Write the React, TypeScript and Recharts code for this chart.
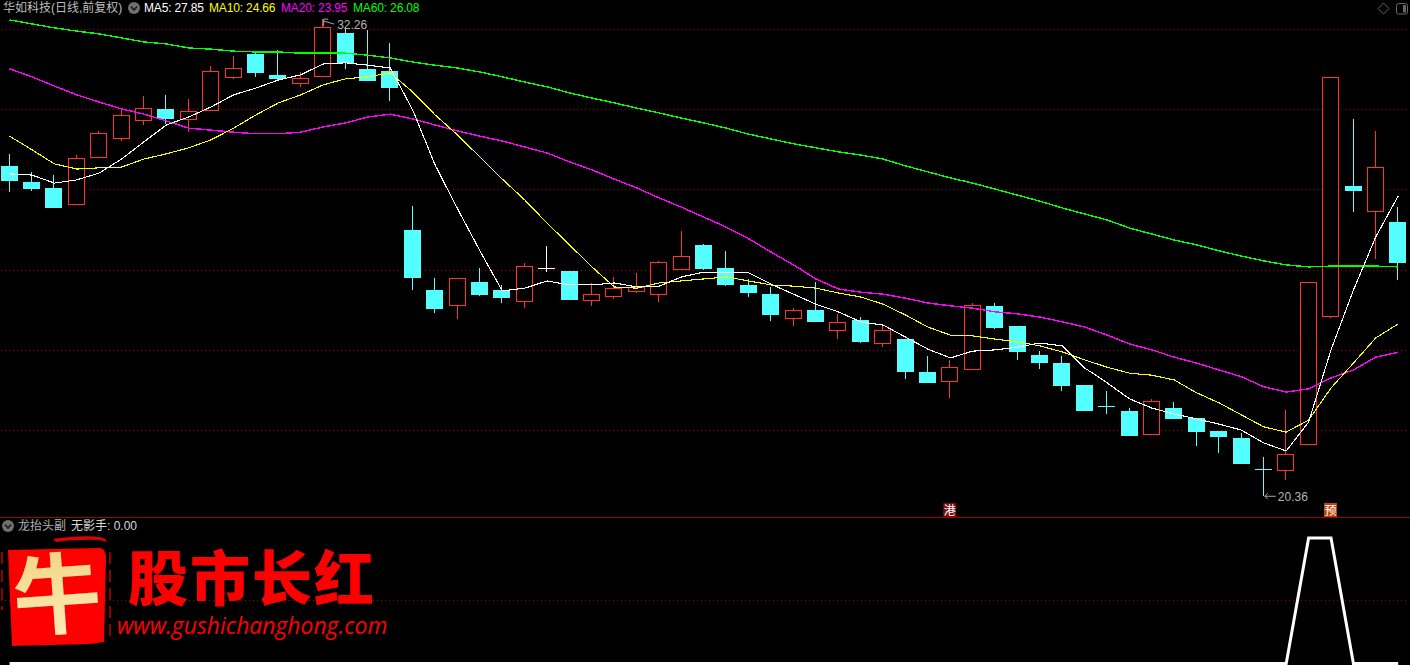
import { Bar, CartesianGrid, ComposedChart, Line, ReferenceDot, XAxis, YAxis } from 'recharts';

const highs = [28.9, 28.45, 28.37, 28.87, 29.47, 29.99, 30.34, 30.37, 30.27, 31.09, 31.34, 31.41, 31.49, 30.94, 32.26, 32.06, 31.99, 31.66,
  27.6, 25.8, 25.8, 26.05, 25.63, 26.18, 26.6, 25.98, 25.68, 25.83, 25.93, 26.23, 26.98, 26.65, 26.48, 25.78, 25.58, 25.05, 25.7, 24.91, 24.83, 24.66,
  24.28, 23.86, 23.76, 25.18, 25.18, 24.61, 23.98, 23.86, 23.13, 22.98, 22.56, 22.79, 22.71, 22.31, 21.99, 21.94, 21.34, 22.51, 25.7, 30.82, 29.77, 29.47, 27.57];
const opens = [28.6, 28.2, 28.05, 27.65, 28.82, 29.3, 29.74, 30.02, 29.77, 29.99, 30.82, 31.39, 30.87, 30.67, 30.84, 31.91, 31.02, 30.97,
  27.0, 25.5, 25.13, 25.7, 25.5, 25.23, 26.05, 25.98, 25.25, 25.35, 25.48, 25.4, 26.03, 26.63, 26.05, 25.63, 25.4, 24.81, 25.0, 24.51, 24.76, 24.18,
  24.28, 23.46, 23.24, 23.53, 25.11, 24.61, 23.88, 23.68, 23.13, 22.61, 22.49, 21.91, 22.56, 22.31, 21.99, 21.81, 21.04, 21.02, 21.66, 24.86, 28.1, 27.47, 27.2];
const closes = [28.25, 28.05, 27.57, 28.8, 29.42, 29.87, 30.04, 29.79, 29.97, 30.97, 31.04, 30.94, 30.79, 30.79, 32.06, 31.19, 30.74, 30.57,
  25.83, 25.05, 25.8, 25.4, 25.33, 26.1, 26.05, 25.28, 25.4, 25.55, 25.58, 26.2, 26.35, 26.05, 25.65, 25.45, 24.91, 25.0, 24.73, 24.71, 24.23, 24.51,
  23.48, 23.21, 23.58, 25.13, 24.58, 23.98, 23.71, 23.13, 22.51, 22.6, 21.89, 22.74, 22.31, 21.99, 21.86, 21.19, 21.03, 21.41, 25.7, 30.82, 28.0, 28.57, 26.2];
const lows = [27.95, 27.97, 27.55, 27.62, 28.82, 29.22, 29.62, 29.64, 29.44, 29.99, 30.77, 30.82, 30.74, 30.57, 30.82, 31.02, 30.74, 30.22,
  25.5, 24.93, 24.78, 25.35, 25.18, 25.05, 25.95, 25.25, 25.1, 25.28, 25.43, 25.2, 26.03, 26.0, 25.6, 25.33, 24.73, 24.61, 24.71, 24.28, 24.18, 24.08,
  23.28, 23.19, 22.81, 23.51, 24.53, 23.76, 23.53, 22.98, 22.49, 22.41, 21.89, 21.89, 22.29, 21.61, 21.44, 21.19, 20.36, 20.77, 21.66, 24.81, 27.45, 26.28, 25.75];

const ma5 = [28.4, 28.37, 28.17, 28.25, 28.42, 28.77, 29.2, 29.62, 29.82, 30.07, 30.37, 30.54, 30.74, 30.87, 31.14, 31.17, 31.11, 31.04,
  29.99, 28.62, 27.53, 26.48, 25.48, 25.55, 25.73, 25.63, 25.63, 25.68, 25.58, 25.6, 25.83, 25.95, 25.95, 25.93, 25.65, 25.4, 25.15, 24.96, 24.71, 24.63,
  24.33, 24.03, 23.81, 23.98, 24.01, 24.08, 24.18, 24.11, 23.56, 23.19, 22.79, 22.56, 22.41, 22.29, 22.16, 22.01, 21.69, 21.49, 22.21, 24.01, 25.5, 26.83, 27.85];
const ma10 = [29.34, 29.0, 28.65, 28.52, 28.55, 28.57, 28.77, 28.9, 29.05, 29.25, 29.54, 29.87, 30.17, 30.37, 30.62, 30.77, 30.82, 30.92,
  30.44, 29.87, 29.37, 28.82, 28.27, 27.75, 27.17, 26.63, 26.08, 25.58, 25.55, 25.68, 25.73, 25.78, 25.83, 25.73, 25.63, 25.6, 25.55, 25.43, 25.33, 25.15,
  24.88, 24.58, 24.38, 24.36, 24.28, 24.21, 24.11, 23.96, 23.76, 23.58, 23.43, 23.38, 23.26, 22.94, 22.69, 22.39, 22.09, 21.96, 22.26, 23.06, 23.68, 24.31, 24.66];
const ma20 = [31.02, 30.82, 30.59, 30.37, 30.19, 30.02, 29.89, 29.72, 29.54, 29.49, 29.44, 29.4, 29.4, 29.44, 29.57, 29.67, 29.82, 29.89,
  29.77, 29.62, 29.47, 29.34, 29.22, 29.07, 28.92, 28.7, 28.5, 28.27, 28.05, 27.8, 27.57, 27.32, 27.07, 26.78, 26.45, 26.13, 25.78, 25.53, 25.45, 25.4,
  25.3, 25.18, 25.11, 25.05, 24.96, 24.91, 24.83, 24.71, 24.58, 24.38, 24.16, 24.01, 23.83, 23.68, 23.51, 23.34, 23.09, 22.96, 23.04, 23.31, 23.51, 23.83, 23.95];
const ma60 = [32.24, 32.14, 32.04, 31.96, 31.89, 31.79, 31.69, 31.64, 31.54, 31.51, 31.46, 31.44, 31.44, 31.41, 31.41, 31.41, 31.36, 31.29,
  31.19, 31.11, 31.04, 30.94, 30.82, 30.69, 30.57, 30.42, 30.29, 30.17, 30.04, 29.92, 29.79, 29.67, 29.54, 29.39, 29.27, 29.15, 29.05, 28.95, 28.87, 28.77,
  28.6, 28.45, 28.3, 28.17, 28.02, 27.87, 27.72, 27.55, 27.4, 27.25, 27.05, 26.9, 26.75, 26.63, 26.48, 26.35, 26.23, 26.13, 26.08, 26.1, 26.1, 26.1, 26.08];

// 无影手 signal
const signal = [0, 0, 0, 0, 0, 0, 0, 0, 0, 0, 0, 0, 0, 0, 0, 0, 0, 0, 0, 0, 0, 0, 0, 0, 0, 0, 0, 0, 0, 0, 0, 0,
  0, 0, 0, 0, 0, 0, 0, 0, 0, 0, 0, 0, 0, 0, 0, 0, 0, 0, 0, 0, 0, 0, 0, 0, 0, 0, 1, 1, 0, 0, 0];

const priceTicks = [32, 30, 28, 26, 24, 22];
const signalTicks = [0.5];
const maLabels = [
  { text: 'MA5: 27.85', color: '#ffffff', left: 144 },
  { text: 'MA10: 24.66', color: '#ffff00', left: 209 },
  { text: 'MA20: 23.95', color: '#ff00ff', left: 281 },
  { text: 'MA60: 26.08', color: '#00ff00', left: 353 },
];
const tags = [
  { idx: 42, price: 20.02, text: '港', color: '#7a0c0c' },
  { idx: 59, price: 20.02, text: '预', color: '#b5480f' },
];

const rows = highs.map((high, i) => ({
  idx: i,
  high,
  low: lows[i],
  open: opens[i],
  close: closes[i],
  ma5: ma5[i],
  ma10: ma10[i],
  ma20: ma20[i],
  ma60: ma60[i],
  signal: signal[i],
}));

const UP = '#ff3232';
const DOWN = '#54ffff';
const GRID = '#a00000';
const uiFont = '"Liberation Sans", "Noto Sans CJK SC", sans-serif';
const plotMargin = { top: 0, right: 0.6, bottom: 0, left: 0.4 };

function Candle(props: any) {
  const { x, y, width, height, payload } = props;
  const { open, close, high, low } = payload;
  const top = Math.min(y, y + height);
  const unit = Math.abs(height) / (high - low);
  const at = (p: number) => Math.round(top + (high - p) * unit);
  // recharts lands about a pixel right of the terminal's bars
  const left = Math.round(x - 0.7);
  const w = Math.round(width);
  const cx = left + (w - 1) / 2 + 0.5;
  const color = open === close ? '#ffffff' : close > open ? UP : DOWN;
  const bodyTop = at(Math.max(open, close));
  const bodyBottom = at(Math.min(open, close));
  const wick = <line x1={cx} x2={cx} y1={at(high)} y2={at(low)} stroke={color} strokeWidth={1} shapeRendering="crispEdges" />;
  if (bodyBottom - bodyTop < 1) {
    return (
      <g>
        {wick}
        <line x1={left} x2={left + w} y1={bodyTop + 0.5} y2={bodyTop + 0.5} stroke={color} strokeWidth={1} shapeRendering="crispEdges" />
      </g>
    );
  }
  if (close > open) {
    return (
      <g>
        {wick}
        <rect x={left + 0.5} y={bodyTop + 0.5} width={w - 1} height={bodyBottom - bodyTop} fill="#000" stroke={color} strokeWidth={1} shapeRendering="crispEdges" />
      </g>
    );
  }
  return (
    <g>
      {wick}
      <rect x={left} y={bodyTop} width={w} height={bodyBottom - bodyTop + 1} fill={color} shapeRendering="crispEdges" />
    </g>
  );
}

function HighFlag({ cx, cy }: any) {
  return (
    <g stroke="#a8a8a8" fill="none">
      <path d={`M${cx + 0.5} ${cy + 7} V${cy} H${cx + 5} M${cx + 0.5} ${cy + 2} L${cx + 11} ${cy + 5}`} strokeWidth={1} />
      <text x={cx + 14} y={cy + 10} fill="#b4b4b4" stroke="none" fontSize={12} fontFamily={uiFont}>32.26</text>
    </g>
  );
}

function LowFlag({ cx, cy }: any) {
  return (
    <g stroke="#a8a8a8" fill="none">
      <path d={`M${cx + 4} ${cy - 3} L${cx + 1} ${cy} L${cx + 4} ${cy + 3} M${cx + 1} ${cy} H${cx + 12}`} strokeWidth={1} />
      <text x={cx + 14} y={cy + 5} fill="#b4b4b4" stroke="none" fontSize={12} fontFamily={uiFont}>20.36</text>
    </g>
  );
}

function Tag({ cx, cy, text, color }: any) {
  return (
    <g>
      <rect x={cx - 7} y={cy - 7} width={13} height={14} fill={color} />
      <text x={cx - 0.5} y={cy + 5} textAnchor="middle" fill="#fff" fontSize={12} fontFamily='"Noto Sans CJK SC"'>{text}</text>
    </g>
  );
}

function Chevron({ left, top }: { left: number; top: number }) {
  return (
    <svg width={14} height={14} style={{ position: 'absolute', left, top }}>
      <circle cx={7} cy={7} r={6} fill="#707070" />
      <path d="M4 5.5 L7 9 L10 5.5" fill="none" stroke="#1c1c1c" strokeWidth={1.6} />
    </svg>
  );
}

function Label({ left, top, color, spacing, children }: any) {
  return (
    <span style={{ position: 'absolute', left, top, color, fontSize: 12, lineHeight: '16px', whiteSpace: 'nowrap', fontFamily: uiFont, letterSpacing: spacing }}>
      {children}
    </span>
  );
}

function Logo() {
  return (
    <svg width={400} height={148} style={{ position: 'absolute', left: 0, top: 517 }}>
      <defs>
        <linearGradient id="gold" x1="0" y1="0" x2="0" y2="1">
          <stop offset="0" stopColor="#f0cf78" />
          <stop offset="1" stopColor="#fdf0c0" />
        </linearGradient>
      </defs>
      <path d="M53 22 Q80 18 100 20 Q106 21 107 25 L100 23 Q75 22 56 25 Z" fill="#e00000" />
      <path d="M8 33 L100 31 Q106 32 106 41 L104 125 L90 127 L12 129 L10 83 Z" fill="#ff0000" />
      <path d="M2 35 V93 M110 35 V125" stroke="#c00000" strokeWidth={1.5} strokeDasharray="12 6" />
      <text x={57} y={110} textAnchor="middle" fontSize={88} fontWeight={700} fontFamily='"Noto Sans CJK SC"' fill="url(#gold)" transform="rotate(-4 57 80)">牛</text>
      <text x={128} y={84} fontSize={60} fontWeight={900} letterSpacing={2} fontFamily='"Noto Sans CJK SC"' fill="#ff0000">股市长红</text>
      <text x={117} y={117} fontSize={22.9} fontStyle="italic" fontWeight={500} fontFamily='"Open Sans"' fill="#ff0000">www.gushichanghong.com</text>
    </svg>
  );
}

export default function App() {
  return (
    <div style={{ position: 'absolute', left: 0, top: 0, width: 1410, height: 665, background: '#000', overflow: 'hidden' }}>
      <div style={{ position: 'absolute', left: -2, top: 0 }}>
        <ComposedChart width={1412} height={517} data={rows} margin={plotMargin}>
          <XAxis dataKey="idx" scale="band" hide />
          <YAxis domain={[19.843, 32.736]} allowDataOverflow hide />
          <CartesianGrid vertical={false} horizontalValues={priceTicks} stroke={GRID} strokeDasharray="1 3" strokeDashoffset={1.4} shapeRendering="crispEdges" />
          <Bar dataKey={(d: any) => [d.low, d.high]} barSize={17} shape={Candle} isAnimationActive={false} />
          <Line dataKey="ma60" stroke="#00ff00" strokeWidth={1.4} shapeRendering="crispEdges" dot={false} activeDot={false} isAnimationActive={false} />
          <Line dataKey="ma20" stroke="#ff00ff" strokeWidth={1.4} shapeRendering="crispEdges" dot={false} activeDot={false} isAnimationActive={false} />
          <Line dataKey="ma10" stroke="#ffff00" strokeWidth={1.1} shapeRendering="crispEdges" dot={false} activeDot={false} isAnimationActive={false} />
          <Line dataKey="ma5" stroke="#ffffff" strokeWidth={1.1} shapeRendering="crispEdges" dot={false} activeDot={false} isAnimationActive={false} />
          <ReferenceDot x={14} y={32.26} shape={HighFlag} />
          <ReferenceDot x={56} y={20.36} shape={LowFlag} />
          {tags.map((t) => (
            <ReferenceDot key={t.idx} x={t.idx} y={t.price} shape={(p: any) => <Tag {...p} text={t.text} color={t.color} />} />
          ))}
        </ComposedChart>
      </div>
      <div style={{ position: 'absolute', left: 0, top: 517, width: 1410, height: 1, background: '#a00000' }} />
      <div style={{ position: 'absolute', left: -2, top: 517 }}>
        <ComposedChart width={1412} height={148} data={rows} margin={plotMargin}>
          <XAxis dataKey="idx" scale="band" hide />
          <YAxis domain={[-0.012, 1.167]} allowDataOverflow hide />
          <CartesianGrid vertical={false} horizontalValues={signalTicks} stroke={GRID} strokeDasharray="1 3" strokeDashoffset={1.4} shapeRendering="crispEdges" />
          <Line dataKey="signal" stroke="#ffffff" strokeWidth={3} dot={false} activeDot={false} isAnimationActive={false} />
        </ComposedChart>
      </div>

      <Label left={3} top={0} color="#bdbdbd">华如科技(日线,前复权)</Label>
      <Chevron left={127} top={1} />
      {maLabels.map((m) => (
        <Label key={m.text} left={m.left} top={0} color={m.color} spacing="-0.15px">{m.text}</Label>
      ))}
      <svg width={34} height={18} style={{ position: 'absolute', left: 1376, top: 0 }}>
        <path d="M7.5 3 L13 8.5 L7.5 14 L2 8.5 Z" fill="none" stroke="#666" />
        <rect x={20.5} y={3.5} width={11} height={10.5} rx={2} fill="none" stroke="#666" />
        <rect x={27} y={5} width={3} height={7.5} fill="#666" />
      </svg>

      <Chevron left={1} top={519} />
      <Label left={18} top={518} color="#b0b0b0">龙抬头副</Label>
      <Label left={71} top={518} color="#d8d8d8">无影手: 0.00</Label>
      <Logo />
    </div>
  );
}
